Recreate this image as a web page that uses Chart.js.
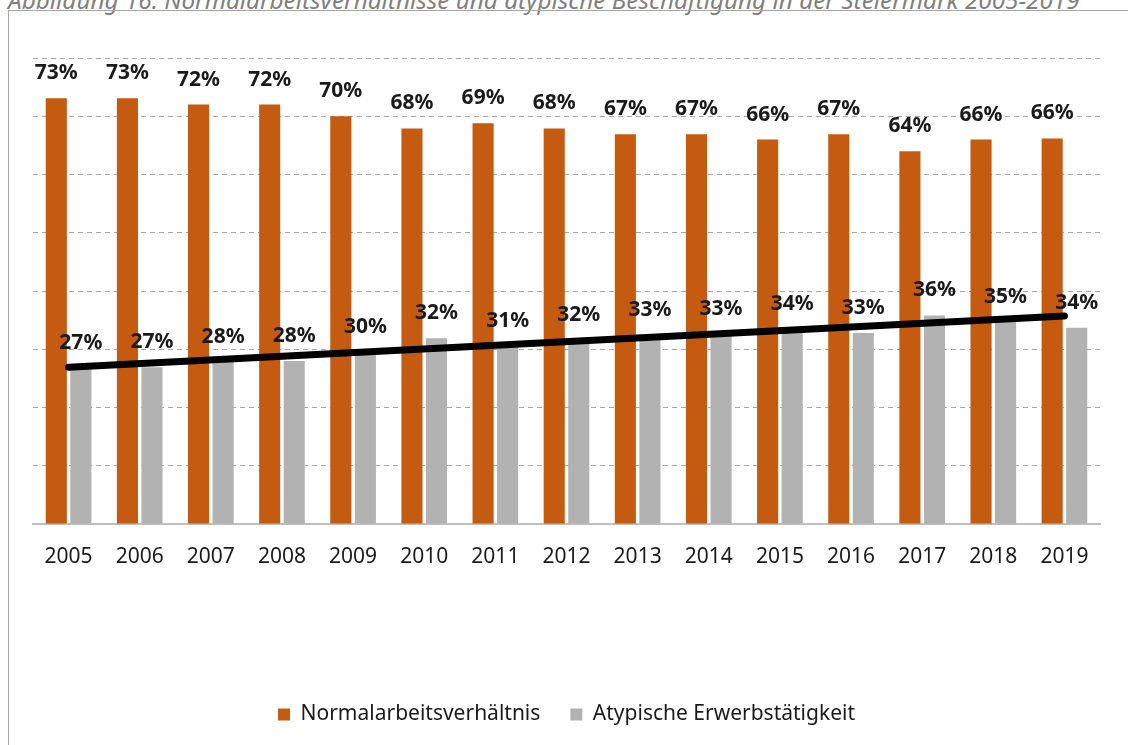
<!DOCTYPE html>
<html lang="de">
<head>
<meta charset="utf-8">
<script src="https://cdn.jsdelivr.net/npm/chart.js@4/dist/chart.umd.min.js"></script>
<style>
  html, body { margin: 0; padding: 0; background: #fff; overflow: hidden; }
  body { width: 1128px; height: 745px; position: relative; }
  .title {
    position: absolute; left: 8px; top: -17px;
    font: italic 24.3px "Noto Sans", sans-serif; color: #7f7f7f;
    white-space: nowrap;
  }
  .frame {
    position: absolute; left: 8px; top: 10px; width: 1200px; height: 800px;
    border: 1px solid #a6a6a6;
  }
  #chart { position: absolute; left: 0; top: 0; }
</style>
</head>
<body>
<div class="title">Abbildung 16: Normalarbeitsverhältnisse und atypische Beschäftigung in der Steiermark 2005-2019</div>
<div class="frame"></div>
<canvas id="chart" width="1128" height="745"></canvas>
<script>
'use strict';

///////////////////////
//// Data /////////////

const years = ['2005', '2006', '2007', '2008', '2009', '2010', '2011', '2012',
  '2013', '2014', '2015', '2016', '2017', '2018', '2019'];
const normal = [73.1, 73.1, 72.0, 72.0, 70.0, 67.9, 68.8, 67.9, 66.9, 66.9, 66.0, 66.9, 64.0, 66.0, 66.2];
const atypical = [26.8, 26.9, 27.8, 28.0, 29.6, 31.9, 30.6, 31.6, 32.5, 32.6, 33.5, 32.8, 35.8, 34.7, 33.7];
const trendEnds = [26.9, 35.7]; // trend line at 2005 and 2019
const yTicks = [0, 10, 20, 30, 40, 50, 60, 70, 80];

const ORANGE = '#C55A11';
const GREY = '#B2B2B2';
const FONT = '"Noto Sans", sans-serif';

const trendData = years.map(function (y, i) {
  if (i === 0) return trendEnds[0];
  if (i === years.length - 1) return trendEnds[1];
  return null;
});

///////////////////////
//// Labels plugin ////

const barLabels = {
  id: 'barLabels',
  afterDatasetsDraw(chart) {
    const ctx = chart.ctx;
    ctx.save();
    ctx.font = 'bold 21px ' + FONT;
    ctx.fillStyle = '#1a1a1a';
    ctx.textAlign = 'center';
    ctx.textBaseline = 'middle';
    chart.data.datasets.forEach(function (ds, di) {
      if (ds.type === 'line') return;
      const meta = chart.getDatasetMeta(di);
      meta.data.forEach(function (bar, i) {
        ctx.fillText(Math.round(ds.data[i]) + '%', bar.x, bar.y - 25);
      });
    });
    ctx.restore();
  }
};

///////////////////////
//// Chart ////////////

const ctx = document.getElementById('chart').getContext('2d');
const chart = new Chart(ctx, {
  type: 'bar',
  data: {
    labels: years,
    datasets: [
      {
        type: 'line',
        label: 'Trend',
        data: trendData,
        spanGaps: true,
        borderColor: '#000',
        borderWidth: 7,
        borderCapStyle: 'round',
        pointRadius: 0,
        tension: 0,
        order: 0
      },
      {
        label: 'Normalarbeitsverhältnis',
        data: normal,
        backgroundColor: ORANGE,
        categoryPercentage: 0.69,
        barPercentage: 0.86,
        order: 1
      },
      {
        label: 'Atypische Erwerbstätigkeit',
        data: atypical,
        backgroundColor: GREY,
        categoryPercentage: 0.69,
        barPercentage: 0.86,
        order: 1
      }
    ]
  },
  options: {
    responsive: false,
    animation: false,
    layout: { padding: { left: 33, right: 28, top: 58, bottom: 10 } },
    plugins: {
      tooltip: { enabled: false },
      legend: {
        position: 'bottom',
        labels: {
          boxWidth: 12,
          boxHeight: 12,
          padding: 30,
          color: '#1a1a1a',
          font: { family: FONT, size: 21 },
          filter: item => item.text !== 'Trend'
        }
      }
    },
    scales: {
      x: {
        grid: { display: false, drawTicks: false },
        border: { display: true, color: '#bfbfbf', width: 2 },
        ticks: { color: '#1a1a1a', padding: 20, font: { family: FONT, size: 21 } },
        afterFit: function (scale) { scale.height = 150; }
      },
      y: {
        display: true,
        min: 0,
        max: 80,
        afterBuildTicks: function (scale) { scale.ticks = yTicks.map(v => ({ value: v })); },
        ticks: { display: false },
        grid: {
          drawTicks: false,
          color: c => c.tick && c.tick.value === 0 ? 'rgba(0,0,0,0)' : '#a6a6a6',
          lineWidth: 1
        },
        border: { display: false, dash: [5, 4] }
      }
    }
  },
  plugins: [barLabels]
});
</script>
</body>
</html>
